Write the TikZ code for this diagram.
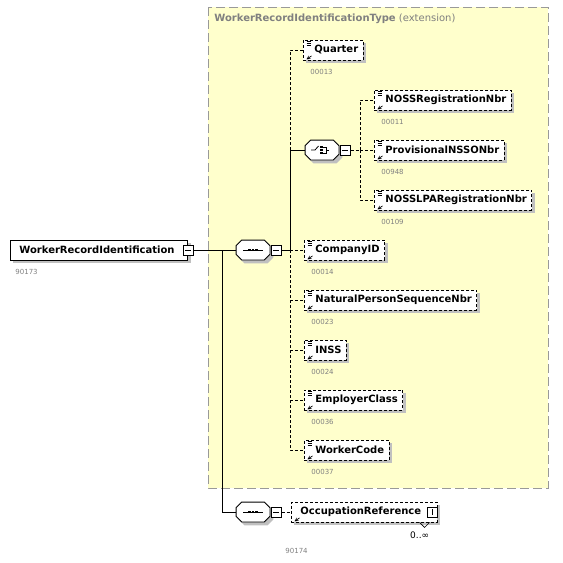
\documentclass[tikz,border=0pt]{standalone}
\usepackage{fontspec}
\setmainfont{DejaVu Sans}
\usetikzlibrary{positioning,shadows}
\definecolor{extyellow}{RGB}{255,255,204}
\definecolor{extborder}{RGB}{153,153,153}
\definecolor{idgray}{RGB}{128,128,128}
\definecolor{shadowgray}{RGB}{192,192,192}
\begin{document}
\begin{tikzpicture}[x=1pt, y=-1pt, >=stealth, line width=0.8pt, font=\fontsize{10}{12}\selectfont,
  drop/.style={general shadow={fill=shadowgray, shadow xshift=3pt, shadow yshift=-3pt}},
  opt/.style={dash pattern=on 3pt off 2pt},
  boxbase/.style={draw, fill=white, drop, font=\fontsize{10}{12}\selectfont\bfseries, minimum height=20pt, inner xsep=0pt, inner ysep=0pt, anchor=west},
  elem/.style={boxbase, opt, execute at begin node=\hspace*{11pt}, execute at end node=\hspace*{5pt}},
  rootel/.style={boxbase, execute at begin node=\hspace*{9pt}, execute at end node=\hspace*{13pt}},
  refel/.style={boxbase, opt, execute at begin node=\hspace*{9pt}, execute at end node=\hspace*{16pt}},
  idlbl/.style={font=\fontsize{7}{8}\selectfont, text=idgray, inner sep=0pt, anchor=north west},
  tgminus/.style={draw, solid, fill=white, minimum size=10pt, inner sep=0pt, path picture={
    \draw ([xshift=-3pt]path picture bounding box.center) -- ([xshift=3pt]path picture bounding box.center);}},
  tgplus/.style={tgminus, path picture={
    \draw ([yshift=-3pt]path picture bounding box.center) -- ([yshift=3pt]path picture bounding box.center);}},
  compo/.style={minimum width=33pt, minimum height=19pt, inner sep=0pt}]
\useasboundingbox (0,0) rectangle (563,563);
% khung kieu mo rong
\draw[fill=extyellow, draw=extborder, line width=1pt, dash pattern=on 9pt off 4pt] (208,7) rectangle (548,488);
\node[anchor=west, text=idgray, inner sep=0pt] (ttl) at (214,19) {\textbf{WorkerRecordIdentificationType} (extension)};
% phan tu goc
\node[rootel] (root) at (10,250) {WorkerRecordIdentification};
\node[tgminus] (rootm) at (root.east) {};
\node[idlbl] (root-id) at ([shift={(5pt,-8pt)}]root.south west) {90173};
% cac bo ghep (sequence, choice)
\node[compo] (seqa) at (253,250) {};
\node[compo] (cho) at (322,150) {};
\node[compo] (seqb) at (253,512) {};
\foreach \c in {seqa,cho,seqb}{
\foreach \o/\s/\e in {3/shadowgray/shadowgray,0/white/black}
\filldraw[fill=\s, draw=\e]
  ([shift={({5.5pt+\o pt},{-\o pt})}]\c.north west) -- ([shift={({-5.5pt+\o pt},{-\o pt})}]\c.north east)
  -- ([shift={(\o pt,{-5.5pt-\o pt})}]\c.north east) -- ([shift={(\o pt,{5.5pt-\o pt})}]\c.south east)
  -- ([shift={({-5.5pt+\o pt},{-\o pt})}]\c.south east) -- ([shift={({5.5pt+\o pt},{-\o pt})}]\c.south west)
  -- ([shift={(\o pt,{5.5pt-\o pt})}]\c.south west) -- ([shift={(\o pt,{-5.5pt-\o pt})}]\c.north west) -- cycle;
}
\foreach \c in {seqa,seqb}{
\draw ([xshift=-10pt]\c.center) -- ([xshift=10pt]\c.center);
\foreach \d in {-3.6,0,3.6} \fill ([shift={({\d pt-1.4pt},-1.4pt)}]\c.center) rectangle ++(2.8pt,2.8pt);
}
\draw ([xshift=-11pt]cho.center) -- ([xshift=-7pt]cho.center) -- ([shift={(-3.5pt,4pt)}]cho.center);
\foreach \d in {-3,0,3} \fill ([shift={(-1.6pt,{\d pt-1.1pt})}]cho.center) rectangle ++(2.2pt,2.2pt);
\draw ([shift={(1pt,3pt)}]cho.center) -- ([shift={(4pt,3pt)}]cho.center) -- ([shift={(4pt,-3pt)}]cho.center)
  -- ([shift={(1pt,-3pt)}]cho.center) ([xshift=4pt]cho.center) -- ([xshift=7pt]cho.center);
\node[tgminus, right=1pt of seqa] (seqam) {};
\node[tgminus, right=1pt of cho] (chom) {};
\node[tgminus, right=1pt of seqb] (seqbm) {};
% cac phan tu con
\foreach \n/\x/\y/\t/\id in {quarter/303/50/Quarter/00013, nossreg/374/100/NOSSRegistrationNbr/00011,
  provnsso/374/150/ProvisionalNSSONbr/00948, nosslpa/374/200/NOSSLPARegistrationNbr/00109,
  company/304/250/CompanyID/00014, natpers/304/300/NaturalPersonSequenceNbr/00023,
  inss/304/350/INSS/00024, emplcls/304/400/EmployerClass/00036, workcode/304/450/WorkerCode/00037}{
\node[elem] (\n) at (\x,\y) {\t};
\node[idlbl] (\n-id) at ([shift={(7pt,-8.5pt)}]\n.south west) {\id};
\foreach \k in {1.5,3.5,5.5} \draw[line width=0.6pt] ([shift={(3.5pt,-\k pt)}]\n.north west) -- ++(4.5pt,0pt);
\draw[->, line width=0.7pt] ([shift={(8.5pt,4.5pt)}]\n.south west) -- ([shift={(3.5pt,1pt)}]\n.south west);
}
\node[refel] (occref) at (291,512) {OccupationReference};
\node[tgplus, anchor=east] (occp) at (occref.east) {};
\draw[->, line width=0.7pt] ([shift={(8.5pt,4.5pt)}]occref.south west) -- ([shift={(3.5pt,1pt)}]occref.south west);
\draw[line width=0.6pt] ([xshift=-18pt]occref.south east) -- ++(5,5) -- ++(5,-5);
\node[anchor=north east, inner sep=0pt, font=\fontsize{9}{10}\selectfont] (occmax) at ([shift={(-8pt,-9pt)}]occref.south east) {0..∞};
\node[idlbl] (occref-id) at ([shift={(-6pt,-25pt)}]occref.south west) {90174};
% duong noi
\coordinate (busc) at (222,250);
\coordinate (busa) at (290,250);
\coordinate (busb) at (360,150);
\draw (rootm) -- (seqa);
\draw (busc) |- (seqb.west);
\draw (seqam) -- (busa) |- (cho.west);
\foreach \n in {quarter,company,natpers,inss,emplcls,workcode} \draw[opt] (busa) |- (\n.west);
\draw[opt] (chom) -- (busb);
\foreach \n in {nossreg,provnsso,nosslpa} \draw[opt] (busb) |- (\n.west);
\draw[opt] (seqbm) -- (occref.west);
\end{tikzpicture}
\end{document}
